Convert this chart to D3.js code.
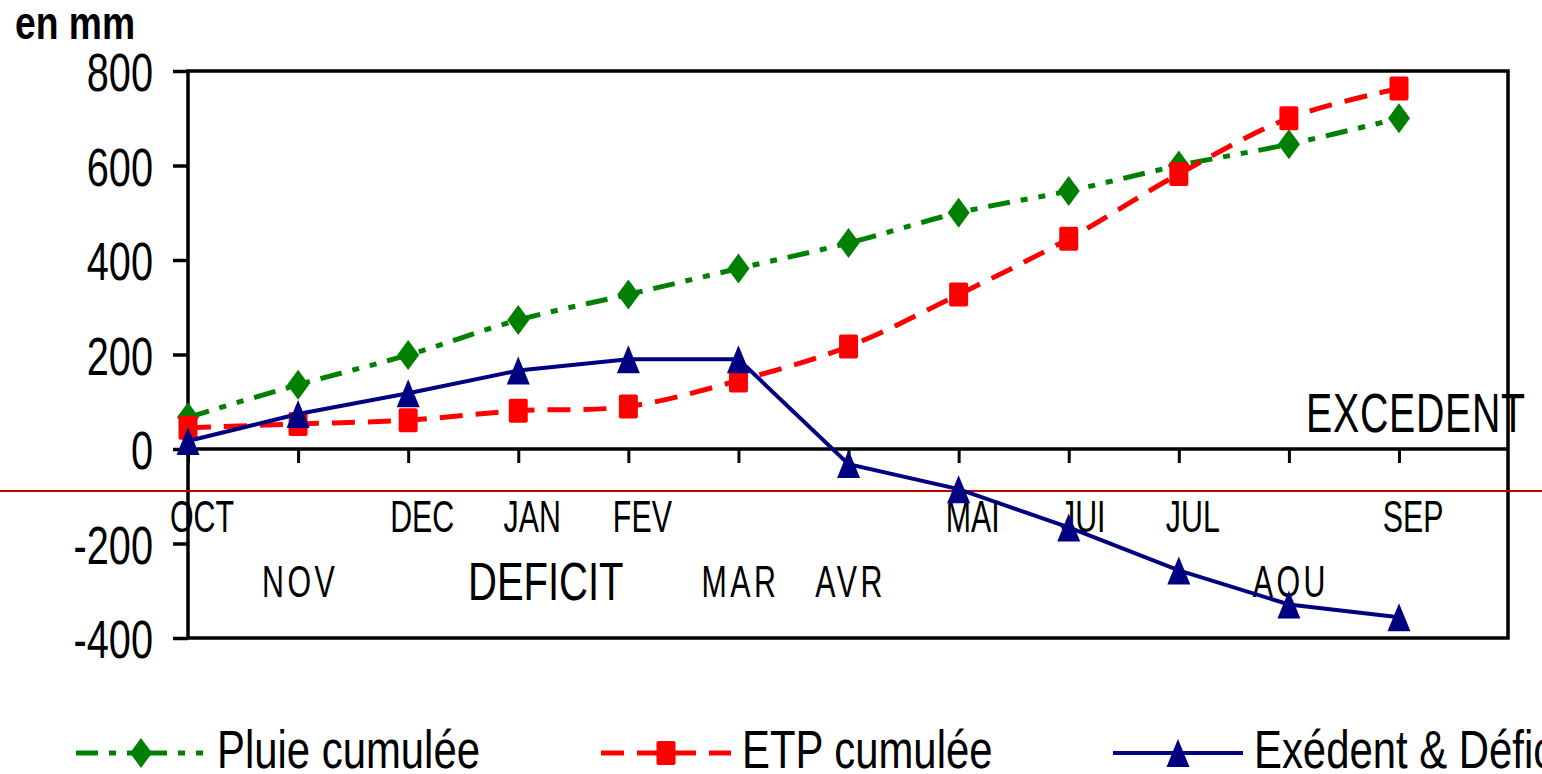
<!DOCTYPE html>
<html>
<head>
<meta charset="utf-8">
<script src="https://cdn.jsdelivr.net/npm/d3@7"></script>
<style>
  body { margin: 0; background: #fff; }
  svg { display: block; overflow: hidden; }
  text { font-family: "Liberation Sans", Arial, sans-serif; fill: #000; }
</style>
</head>
<body>
<script>
// data
var months = ["OCT", "NOV", "DEC", "JAN", "FEV", "MAR", "AVR", "MAI", "JUI", "JUL", "AOU", "SEP"];
var pluie = [67, 136, 199, 273, 327, 382, 436, 500, 546, 600, 645, 700];
var etp = [45, 53, 61, 81, 90, 145, 217, 327, 445, 582, 700, 763];
var excedent = [17, 74, 118, 166, 190, 190, -32, -85, -166, -257, -329, -356];
var yTicks = [-400, -200, 0, 200, 400, 600, 800];
var seriesNames = ["Pluie cumulée", "ETP cumulée", "Exédent & Déficit"];
var lowMonths = ["NOV", "MAR", "AVR", "AOU"];

var svgWidth = 1542;
var svgHeight = 774;
var plotLeft = 188, plotRight = 1508, plotTop = 71, plotBottom = 638;

var svg = d3.select("body").append("svg")
  .attr("width", svgWidth)
  .attr("height", svgHeight);

var x = d3.scalePoint().domain(months).range([plotLeft, 1399]);
var y = d3.scaleLinear().domain([-400, 800]).range([plotBottom, plotTop]);

// narrow text: the original uses a condensed face
function narrowText(sel, tx, ty, sx) {
  return sel.attr("x", 0).attr("y", 0)
    .attr("transform", `translate(${tx},${ty}) scale(${sx},1)`);
}

// y axis with ticks on the left
var yAxis = d3.axisLeft(y).tickValues(yTicks).tickSize(15).tickFormat(d => String(d));
var yg = svg.append("g")
  .attr("transform", `translate(${plotLeft},0)`)
  .call(yAxis);
yg.select(".domain").remove();
yg.selectAll(".tick line").attr("stroke", "#000").attr("stroke-width", 3.5);
yg.selectAll(".tick text")
  .attr("x", 0)
  .attr("dy", "0.37em")
  .attr("transform", "translate(-35,0) scale(0.75,1)")
  .style("font-size", "53px");

// plot frame
svg.append("rect")
  .attr("x", plotLeft).attr("y", plotTop)
  .attr("width", plotRight - plotLeft).attr("height", plotBottom - plotTop)
  .attr("fill", "none").attr("stroke", "#000").attr("stroke-width", 3.5);

// zero line with category ticks
var xAxis = d3.axisBottom(x).tickSize(14).tickFormat("");
var xg = svg.append("g")
  .attr("transform", `translate(0,${y(0)})`)
  .call(xAxis);
xg.select(".domain").remove();
xg.selectAll(".tick line").attr("stroke", "#000").attr("stroke-width", 3);
svg.append("line")
  .attr("x1", plotLeft).attr("x2", plotRight)
  .attr("y1", y(0)).attr("y2", y(0))
  .attr("stroke", "#000").attr("stroke-width", 3.5);

// thin red line across the page
svg.append("line")
  .attr("x1", 0).attr("x2", svgWidth)
  .attr("y1", 491).attr("y2", 491)
  .attr("stroke", "#C00000").attr("stroke-width", 2);

// month labels, alternating rows
svg.selectAll(".month")
  .data(months)
  .enter()
  .append("text")
  .attr("class", "month")
  .attr("text-anchor", "middle")
  .style("font-size", "44px")
  .style("letter-spacing", d => lowMonths.includes(d) ? "5px" : "0px")
  .text(d => d)
  .each(function(d) {
    var low = lowMonths.includes(d);
    narrowText(d3.select(this), low ? x(d) + 2 : x(d) + 14, low ? 597 : 532, 0.69);
  });

narrowText(svg.append("text").style("font-size", "53px").text("DEFICIT"), 468, 600, 0.755);

narrowText(svg.append("text").style("font-size", "55px").style("letter-spacing", "1px").text("EXCEDENT"),
  1306, 432, 0.715);

narrowText(svg.append("text").style("font-size", "46px").style("font-weight", "bold").text("en mm"),
  15, 39, 0.81);

// markers
function marker(g, kind, color) {
  if (kind === "diamond") {
    return g.append("path").attr("d", "M0,-15L11,0L0,15L-11,0Z").attr("fill", color);
  } else if (kind === "square") {
    return g.append("rect").attr("x", -9.5).attr("y", -12).attr("width", 19).attr("height", 24)
      .attr("rx", 2).attr("fill", color);
  }
  return g.append("path").attr("d", "M0,-14L11.5,14L-11.5,14Z").attr("fill", color);
}

var series = [
  { name: seriesNames[0], values: pluie, color: "#008000", dash: "22,11,7,11,7,11", width: 5, kind: "diamond", curve: d3.curveCardinal },
  { name: seriesNames[1], values: etp, color: "#FF0000", dash: "23,13", width: 5, kind: "square", curve: d3.curveCardinal },
  { name: seriesNames[2], values: excedent, color: "#000080", dash: null, width: 4, kind: "triangle", curve: d3.curveLinear }
];

series.forEach(function(s) {
  var line = d3.line()
    .x((d, i) => x(months[i]))
    .y(d => y(d))
    .curve(s.curve);
  svg.append("path")
    .datum(s.values)
    .attr("d", line)
    .attr("fill", "none")
    .attr("stroke", s.color)
    .attr("stroke-width", s.width)
    .attr("stroke-dasharray", s.dash);
  s.values.forEach(function(v, i) {
    var g = svg.append("g").attr("transform", `translate(${x(months[i])},${y(v)})`);
    marker(g, s.kind, s.color);
  });
});

// legend
var legendX = [76, 601, 1113];
series.forEach(function(s, i) {
  var lx = legendX[i], ly = 753;
  svg.append("line")
    .attr("x1", lx).attr("x2", lx + 130)
    .attr("y1", ly).attr("y2", ly)
    .attr("stroke", s.color)
    .attr("stroke-width", s.width)
    .attr("stroke-dasharray", s.dash);
  var g = svg.append("g").attr("transform", `translate(${lx + 65},${ly})`);
  marker(g, s.kind, s.color);
  narrowText(svg.append("text").style("font-size", "53px").text(s.name), lx + 141, 768, 0.79);
});
</script>
</body>
</html>
